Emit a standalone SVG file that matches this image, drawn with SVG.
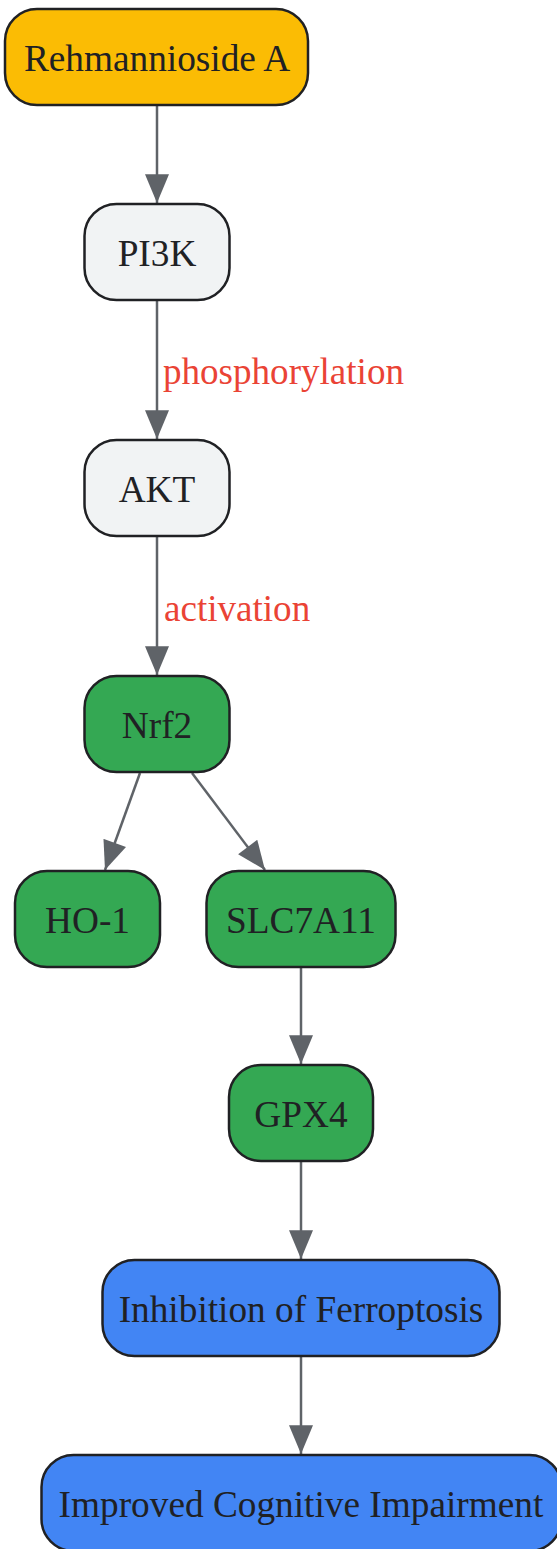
<svg xmlns="http://www.w3.org/2000/svg" width="557" height="1549" viewBox="0 0 557 1549">
<defs>
<marker id="arr" viewBox="0 0 12 10" refX="12" refY="5" markerUnits="userSpaceOnUse" markerWidth="30" markerHeight="24" orient="auto">
<path d="M0,0 L12,5 L0,10 z" fill="#5f6368"/>
</marker>
<style>
.n rect{stroke:#202124;stroke-width:2.5}
.n text{font-family:"Liberation Serif",serif;font-size:37.3px;fill:#202124;text-anchor:middle;dominant-baseline:central}
.y{fill:#fbbc04}.g{fill:#f1f3f4}.gr{fill:#34a853}.b{fill:#4285f4}
.e{stroke:#5f6368;stroke-width:2.5;fill:none;marker-end:url(#arr)}
.lbl{font-family:"Liberation Serif",serif;font-size:37.1px;fill:#ea4335}
</style>
</defs>
<rect width="557" height="1549" fill="#ffffff"/>
<g id="connectors">
<line class="e" x1="157" y1="106" x2="157" y2="203"/>
<line class="e" x1="157" y1="301" x2="157" y2="439"/>
<line class="e" x1="157" y1="537" x2="157" y2="675"/>
<line class="e" x1="140" y1="773" x2="105" y2="870"/>
<line class="e" x1="192" y1="773" x2="265" y2="870"/>
<line class="e" x1="301" y1="968" x2="301" y2="1064"/>
<line class="e" x1="301" y1="1162" x2="301" y2="1259"/>
<line class="e" x1="301" y1="1357" x2="301" y2="1454"/>
<text class="lbl" x="163" y="384">phosphorylation</text>
<text class="lbl" x="164" y="621">activation</text>
</g>
<g id="rehmannioside" class="n"><rect class="y" x="5" y="9" width="303" height="96" rx="32"/><text x="157" y="58">Rehmannioside A</text></g>
<g id="pi3k" class="n"><rect class="g" x="84.5" y="204" width="145" height="96" rx="32"/><text x="157" y="253">PI3K</text></g>
<g id="akt" class="n"><rect class="g" x="84.5" y="440" width="145" height="96" rx="32"/><text x="157" y="489">AKT</text></g>
<g id="nrf2" class="n"><rect class="gr" x="84.5" y="676" width="145" height="96" rx="32"/><text x="157" y="725">Nrf2</text></g>
<g id="ho1" class="n"><rect class="gr" x="15" y="871" width="145" height="96" rx="32"/><text x="87.5" y="920">HO-1</text></g>
<g id="slc7a11" class="n"><rect class="gr" x="206.5" y="871" width="189" height="96" rx="32"/><text x="301" y="920">SLC7A11</text></g>
<g id="gpx4" class="n"><rect class="gr" x="229" y="1065" width="144" height="96" rx="32"/><text x="301" y="1114">GPX4</text></g>
<g id="ferroptosis" class="n"><rect class="b" x="102.5" y="1260" width="397" height="96" rx="32"/><text x="301" y="1309">Inhibition of Ferroptosis</text></g>
<g id="cognitive" class="n"><rect class="b" x="41.5" y="1455" width="520" height="96" rx="32"/><text x="301" y="1504">Improved Cognitive Impairment</text></g>
</svg>
